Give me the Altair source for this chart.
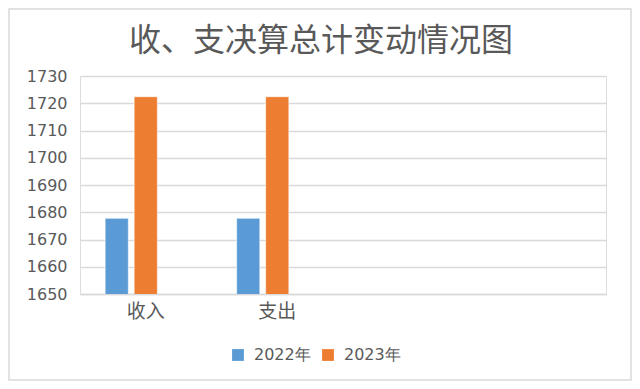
import altair as alt
import pandas as pd

categories = ["收入", "支出"]
x_domain = ["收入", "支出", " ", "  "]
series = ["2022年", "2023年"]
values_2022 = [1677.8, 1677.8]
values_2023 = [1722.4, 1722.4]
y_ticks = [1650, 1660, 1670, 1680, 1690, 1700, 1710, 1720, 1730]
title_text = "收、支决算总计变动情况图"

rows = []
for i, c in enumerate(categories):
    rows.append({"cat": c, "series": series[0], "value": values_2022[i]})
    rows.append({"cat": c, "series": series[1], "value": values_2023[i]})
df = pd.DataFrame(rows)

gray = "#595959"

bars = alt.Chart(df).mark_bar(stroke="white", strokeWidth=0.6, clip=True).encode(
    x=alt.X("cat:N", sort=x_domain,
            scale=alt.Scale(domain=x_domain, paddingInner=0.338, paddingOuter=0.169),
            axis=alt.Axis(title=None, labelAngle=0, ticks=False, domain=True,
                          domainColor="#d9d9d9", domainWidth=1.5,
                          labelFont="Noto Sans CJK SC", labelFontSize=19,
                          labelColor=gray, labelPadding=8)),
    xOffset=alt.XOffset("series:N",
                        scale=alt.Scale(domain=series + ["_"], paddingInner=0.2, paddingOuter=0.1)),
    y=alt.Y("value:Q",
            scale=alt.Scale(domain=[1650, 1730], zero=False, nice=False),
            axis=alt.Axis(title=None, values=y_ticks, format="d", domain=False, ticks=False,
                          grid=True, gridColor="#d9d9d9", gridWidth=1.5,
                          labelFont="DejaVu Sans", labelFontSize=16,
                          labelColor=gray, labelPadding=13)),
    color=alt.Color("series:N",
                    scale=alt.Scale(domain=series, range=["#5B9BD5", "#ED7D31"]),
                    legend=alt.Legend(title=None, orient="none", direction="horizontal",
                                      legendX=150, legendY=271,
                                      symbolType="square", symbolSize=140,
                                      symbolStrokeWidth=0, labelFont="DejaVu Sans",
                                      labelFontSize=16, labelColor=gray,
                                      columnPadding=9, labelOffset=8)),
)

border = alt.Chart(pd.DataFrame({"a": [0]})).mark_rect(
    fill=None, stroke="#d9d9d9", strokeWidth=1.5, clip=False
).encode(
    x=alt.value(-71), x2=alt.value(551), y=alt.value(-67), y2=alt.value(304)
)

chart = alt.layer(border, bars).properties(
    width=526, height=218,
    title=alt.TitleParams(title_text, font="Noto Sans CJK SC", fontSize=32,
                          fontWeight="normal", color=gray, anchor="middle",
                          offset=-50, dx=-22),
    autosize=alt.AutoSizeParams(type="none"),
    padding={"left": 72, "top": 68, "right": 26, "bottom": 87},
).configure_view(stroke=None).configure(background="white")

chart.save("out.html", embed_options={"renderer": "svg", "actions": False})
